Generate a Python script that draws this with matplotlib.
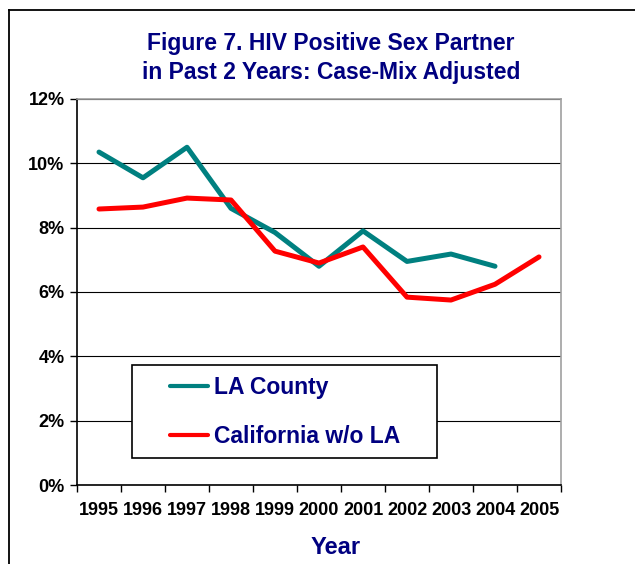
import matplotlib.pyplot as plt
from matplotlib.patches import Rectangle
from matplotlib.lines import Line2D

plt.rcParams['font.family'] = ['Liberation Sans', 'DejaVu Sans']

years = ['1995', '1996', '1997', '1998', '1999', '2000', '2001', '2002', '2003', '2004', '2005']
la_county = [10.35, 9.55, 10.5, 8.6, 7.85, 6.8, 7.9, 6.95, 7.18, 6.8, None]
california = [8.58, 8.64, 8.92, 8.86, 7.27, 6.9, 7.4, 5.84, 5.75, 6.24, 7.09]
y_ticks = [0, 2, 4, 6, 8, 10, 12]

navy = '#000080'
W, H = 635, 564

fig = plt.figure(figsize=(W / 100, H / 100), dpi=100)
ax = fig.add_axes([77 / W, 1 - 485 / H, 484 / W, 386 / H])

x = list(range(len(years)))
la_x = [i for i, v in zip(x, la_county) if v is not None]
la_y = [v for v in la_county if v is not None]
ax.plot(la_x, la_y, color='#008080', lw=3.6, solid_capstyle='round', label='LA County', zorder=3)
ax.plot(x, california, color='#ff0000', lw=3.6, solid_capstyle='round', label='California w/o LA', zorder=3)

ax.set_xlim(-0.5, len(years) - 0.5)
ax.set_ylim(0, 12)
ax.set_yticks(y_ticks)
ax.set_yticklabels([f'{t}%' for t in y_ticks])
ax.yaxis.grid(True, color='black', lw=0.8)
ax.set_axisbelow(True)

ax.set_xticks(x)
ax.set_xticklabels(years)
ax.set_xticks([i - 0.5 for i in range(len(years) + 1)], minor=True)
ax.tick_params(axis='x', which='major', length=0, pad=12)
ax.tick_params(axis='x', which='minor', length=5, width=1, direction='out')
ax.tick_params(axis='y', length=5, width=1, direction='out', pad=4)
for lab in ax.get_xticklabels() + ax.get_yticklabels():
    lab.set_fontweight('bold')
    lab.set_fontsize(13)

ax.spines['left'].set_color('black')
ax.spines['bottom'].set_color('black')
ax.spines['top'].set_color('#a0a0a0')
ax.spines['right'].set_color('#a0a0a0')
for s in ax.spines.values():
    s.set_linewidth(1.2)

ax.set_xlabel('Year', fontsize=17, fontweight='bold', color=navy)
ax.xaxis.set_label_coords((336 - 77) / 484, -(547 - 485) / 386)
ax.xaxis.label.set_va('center')

fig.text(331 / W, 1 - 58 / H, 'Figure 7. HIV Positive Sex Partner\nin Past 2 Years: Case-Mix Adjusted',
         ha='center', va='center', fontsize=16.5, fontweight='bold', color=navy, linespacing=1.34)

# legend box
fig.add_artist(Rectangle((132 / W, 1 - 458 / H), 305 / W, 93 / H, transform=fig.transFigure,
                         facecolor='white', edgecolor='black', lw=1.2, zorder=4))
leg = fig.legend(loc='center left', bbox_to_anchor=(170 / W, 1 - 412 / H), frameon=False,
                 prop={'size': 16.5, 'weight': 'bold'}, handlelength=1.65, handletextpad=0.25,
                 labelspacing=1.15, borderpad=0, borderaxespad=0)
for t in leg.get_texts():
    t.set_color(navy)
for h in leg.get_lines():
    h.set_linewidth(3)

# outer border
fig.add_artist(Line2D([9 / W, 1], [1 - 10 / H, 1 - 10 / H], color='black', lw=1.3))
fig.add_artist(Line2D([9 / W, 9 / W], [0, 1 - 10 / H], color='black', lw=1.3))

fig.savefig('out.png', dpi=100)
